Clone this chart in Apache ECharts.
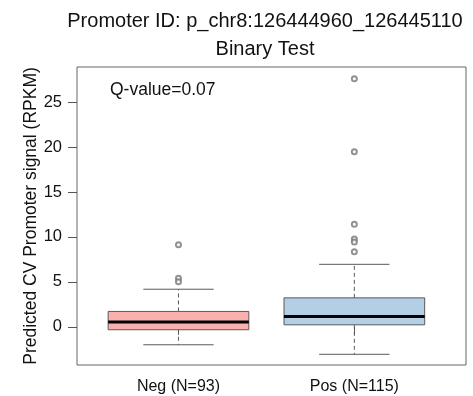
<!DOCTYPE html>
<html>
<head>
<meta charset="utf-8">
<script src="https://cdn.jsdelivr.net/npm/echarts@6/dist/echarts.min.js"></script>
<style>
  html, body { margin: 0; padding: 0; background: #fff; }
  #chart { width: 473px; height: 396px; }
</style>
</head>
<body>
<div id="chart"></div>
<script>
// Group labels along the x axis
const categories = ['Neg (N=93)', 'Pos (N=115)'];
// Five-number summaries per group: [lower whisker, Q1, median, Q3, upper whisker]
const negStats = [-2.0, -0.33, 0.52, 1.71, 4.18];
const posStats = [-3.06, 0.22, 1.15, 3.22, 6.95];
// Outlying points per group
const negOutliers = [9.13, 5.4, 5.0];
const posOutliers = [27.6, 19.48, 11.42, 9.76, 9.42, 8.36];
// Y axis tick values
const yTicks = [0, 5, 10, 15, 20, 25];
const boxColors = ['#F9B1AE', '#B3CFE6'];
const qValueText = 'Q-value=0.07';

const boxData = [
  [1].concat(negStats),
  [2].concat(posStats)
];
const outlierData = negOutliers.map(v => [1, v]).concat(posOutliers.map(v => [2, v]));

const FONT = 'Liberation Sans, Arial, sans-serif';
const chart = echarts.init(document.getElementById('chart'), null, { renderer: 'canvas' });

function renderBox(params, api) {
  const x = api.value(0);
  const lo = api.value(1), q1 = api.value(2), med = api.value(3), q3 = api.value(4), hi = api.value(5);
  const halfBox = 0.4, halfCap = 0.2;
  const pL = api.coord([x - halfBox, q3]);
  const pR = api.coord([x + halfBox, q1]);
  const cL = api.coord([x - halfCap, hi])[0];
  const cR = api.coord([x + halfCap, hi])[0];
  const cx = api.coord([x, 0])[0];
  const yLo = api.coord([x, lo])[1], yQ1 = api.coord([x, q1])[1];
  const yMed = api.coord([x, med])[1], yQ3 = api.coord([x, q3])[1], yHi = api.coord([x, hi])[1];
  const edge = '#5a5a5a';
  return {
    type: 'group',
    children: [
      { type: 'line', shape: { x1: cx, y1: yQ3, x2: cx, y2: yHi },
        style: { stroke: edge, lineWidth: 1, lineDash: [4, 3] } },
      { type: 'line', shape: { x1: cx, y1: yQ1, x2: cx, y2: yLo },
        style: { stroke: edge, lineWidth: 1, lineDash: [4, 3] } },
      { type: 'line', shape: { x1: cL, y1: yHi, x2: cR, y2: yHi },
        style: { stroke: edge, lineWidth: 1 } },
      { type: 'line', shape: { x1: cL, y1: yLo, x2: cR, y2: yLo },
        style: { stroke: edge, lineWidth: 1 } },
      { type: 'rect', shape: { x: pL[0], y: yQ3, width: pR[0] - pL[0], height: yQ1 - yQ3 },
        style: { fill: boxColors[params.dataIndex], stroke: edge, lineWidth: 1 } },
      { type: 'line', shape: { x1: pL[0], y1: yMed, x2: pR[0], y2: yMed },
        style: { stroke: '#000', lineWidth: 3 } }
    ]
  };
}

chart.setOption({
  animation: false,
  backgroundColor: '#fff',
  title: {
    text: 'Promoter ID: p_chr8:126444960_126445110\nBinary Test',
    left: 260,
    top: 2,
    textAlign: 'center',
    textStyle: { fontFamily: FONT, fontSize: 20, fontWeight: 'normal', color: '#111', lineHeight: 28 }
  },
  grid: {
    left: 77, right: 7, top: 67, bottom: 31,
    show: true, borderColor: '#666', borderWidth: 1, backgroundColor: 'transparent'
  },
  xAxis: {
    type: 'value',
    min: 0.423, max: 2.635,
    axisLine: { show: false },
    splitLine: { show: false },
    axisTick: { show: true, customValues: [1, 2], length: 8, lineStyle: { color: '#555' } },
    axisLabel: {
      customValues: [1, 2], margin: 14,
      formatter: v => categories[Math.round(v) - 1] || '',
      fontFamily: FONT, fontSize: 16, color: '#111'
    }
  },
  yAxis: {
    type: 'value',
    min: -4.25, max: 28.9,
    name: 'Predicted CV Promoter signal (RPKM)',
    nameLocation: 'middle',
    nameGap: 37,
    nameMoveOverlap: false,
    nameTextStyle: { fontFamily: FONT, fontSize: 17.5, color: '#111' },
    axisLine: { show: false },
    splitLine: { show: false },
    axisTick: { show: true, customValues: yTicks, length: 9, lineStyle: { color: '#555' } },
    axisLabel: {
      customValues: yTicks, margin: 15,
      fontFamily: FONT, fontSize: 16.5, color: '#111'
    }
  },
  graphic: [{
    type: 'text',
    left: 110, top: 81,
    style: { text: qValueText, font: '17.5px ' + FONT, fill: '#111' }
  }],
  series: [
    {
      type: 'custom',
      renderItem: renderBox,
      data: boxData,
      encode: { x: 0, y: [1, 2, 3, 4, 5] },
      z: 2
    },
    {
      type: 'scatter',
      data: outlierData,
      symbol: 'emptyCircle',
      symbolSize: 5,
      itemStyle: { color: '#777', borderColor: '#777', borderWidth: 1 },
      z: 3
    }
  ]
});
</script>
</body>
</html>
